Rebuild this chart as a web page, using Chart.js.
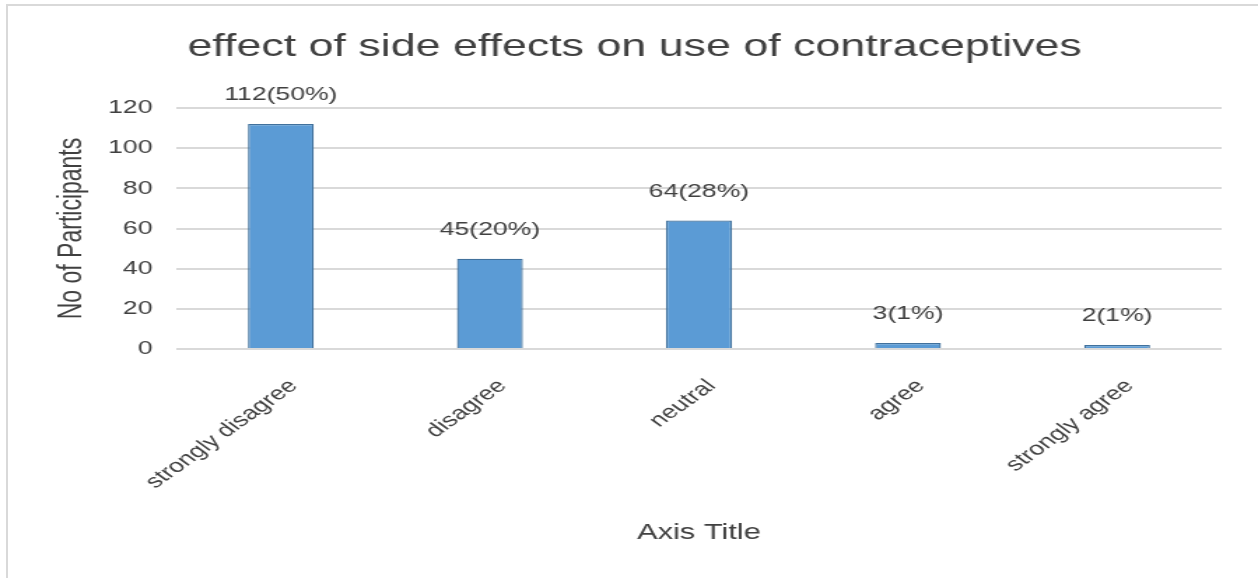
<!DOCTYPE html>
<html>
<head>
<meta charset="utf-8">
<script src="https://cdn.jsdelivr.net/npm/chart.js@4"></script>
<style>
  html, body { margin: 0; padding: 0; background: #ffffff; overflow: hidden; }
  #wrap { position: absolute; left: 0; top: 0; width: 899px; height: 578px;
          transform: scaleX(1.39933); transform-origin: 0 0; }
  #frame { position: absolute; left: 6px; top: 4px; width: 1252px; height: 574px;
           border-top: 2px solid #d9d9d9; border-left: 2px solid #d9d9d9; pointer-events: none; box-sizing: border-box; }
</style>
</head>
<body>
<div id="wrap">
  <canvas id="c" width="899" height="578"></canvas>
</div>
<div id="frame"></div>
<script>
const categories = ["strongly disagree", "disagree", "neutral", "agree", "strongly agree"];
const participants = [112, 45, 64, 3, 2];
const percentLabels = ["50%", "20%", "28%", "1%", "1%"];
const yTicks = [0, 20, 40, 60, 80, 100, 120];

const FONT = "'Liberation Sans', Arial, sans-serif";
const TXT = "#404040";

const dataLabelPlugin = {
  id: 'barValueLabels',
  afterDatasetsDraw(chart) {
    const ctx = chart.ctx;
    const meta = chart.getDatasetMeta(0);
    ctx.save();
    ctx.font = "19px " + FONT;
    ctx.fillStyle = TXT;
    ctx.textAlign = 'center';
    ctx.textBaseline = 'middle';
    meta.data.forEach((bar, i) => {
      const txt = participants[i] + "(" + percentLabels[i] + ")";
      ctx.fillText(txt, bar.x, bar.y - 29);
    });
    ctx.restore();
  }
};

new Chart(document.getElementById('c'), {
  type: 'bar',
  data: {
    labels: categories,
    datasets: [{
      data: participants,
      backgroundColor: '#5B9BD5',
      borderColor: '#41719C',
      borderWidth: 1.3,
      categoryPercentage: 1.0,
      barPercentage: 0.315
    }]
  },
  options: {
    responsive: false,
    animation: false,
    devicePixelRatio: 1,
    layout: { padding: { left: 34, right: 26, top: 0, bottom: 0 } },
    plugins: {
      legend: { display: false },
      tooltip: { enabled: false },
      title: {
        display: true,
        text: "effect of side effects on use of contraceptives",
        color: TXT,
        font: { family: FONT, size: 32, weight: 'normal' },
        padding: { top: 28, bottom: 41.6 }
      }
    },
    scales: {
      x: {
        grid: { display: false, drawTicks: false },
        border: { display: false },
        ticks: {
          color: TXT,
          font: { family: FONT, size: 19 },
          minRotation: 45,
          maxRotation: 45,
          padding: 26,
          labelOffset: 9
        },
        title: {
          display: true,
          text: "Axis Title",
          color: TXT,
          font: { family: FONT, size: 22 },
          padding: { top: 0, bottom: 32 }
        },
        afterFit(scale) { scale.height = 578 - 349; }
      },
      y: {
        min: 0,
        max: 120,
        afterBuildTicks(scale) { scale.ticks = yTicks.map(v => ({ value: v })); },
        grid: { color: '#d9d9d9', lineWidth: 2, drawTicks: false },
        border: { display: false },
        ticks: {
          color: TXT,
          font: { family: FONT, size: 19 },
          padding: 17
        },
        title: {
          display: true,
          text: "No of Participants",
          color: TXT,
          font: { family: FONT, size: 23 },
          padding: { top: 4, bottom: 0 }
        },
        afterFit(scale) { scale.width = 92; }
      }
    }
  },
  plugins: [dataLabelPlugin]
});
</script>
</body>
</html>
